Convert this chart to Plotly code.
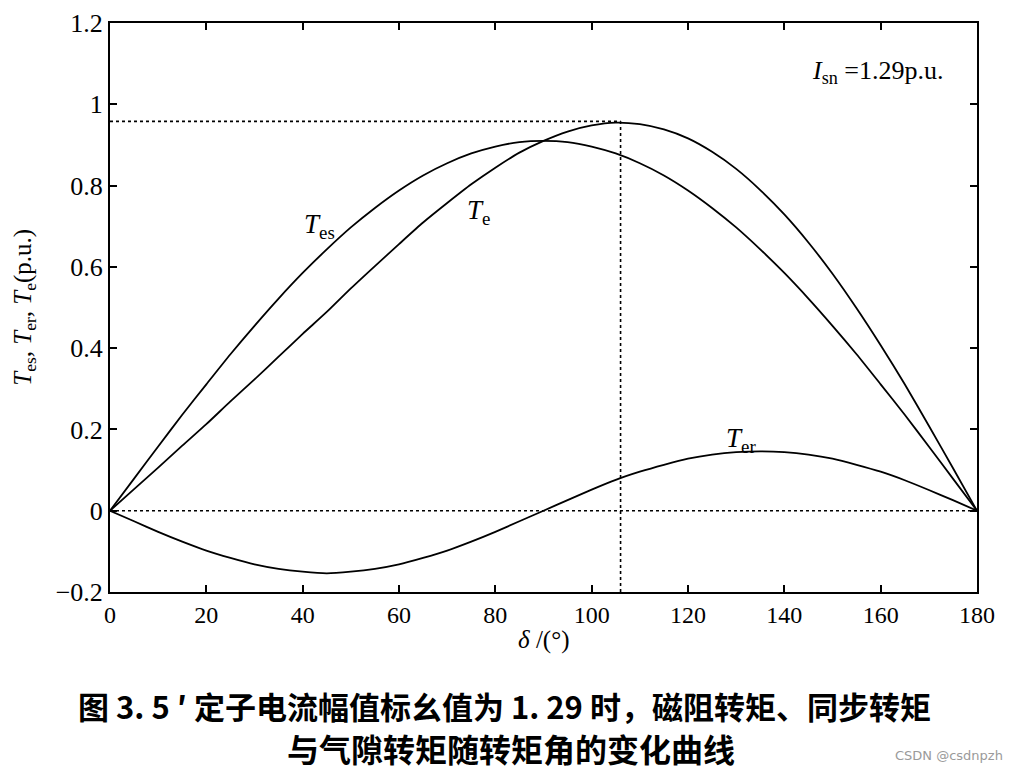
import plotly.graph_objects as go

delta = [0, 5, 10, 15, 20, 25, 30, 35, 40, 45, 50, 55, 60, 65, 70, 75, 80, 85, 90,
         95, 100, 105, 110, 115, 120, 125, 130, 135, 140, 145, 150, 155, 160, 165, 170, 175, 180]
T_es = [0, 0.079, 0.158, 0.236, 0.311, 0.385, 0.455, 0.522, 0.585, 0.643, 0.697, 0.745, 0.788,
        0.825, 0.855, 0.879, 0.896, 0.907, 0.910, 0.907, 0.896, 0.879, 0.855, 0.825, 0.788,
        0.745, 0.697, 0.643, 0.585, 0.522, 0.455, 0.385, 0.311, 0.236, 0.158, 0.079, 0]
T_er = [0, -0.026, -0.052, -0.076, -0.098, -0.116, -0.132, -0.143, -0.150, -0.154, -0.150,
        -0.143, -0.132, -0.116, -0.098, -0.076, -0.052, -0.026, 0, 0.026, 0.052, 0.076, 0.096,
        0.113, 0.128, 0.138, 0.144, 0.146, 0.144, 0.138, 0.128, 0.113, 0.096, 0.075, 0.051,
        0.026, 0]
T_e = [0, 0.053, 0.106, 0.160, 0.213, 0.269, 0.323, 0.379, 0.435, 0.489, 0.547, 0.602, 0.656,
       0.709, 0.757, 0.803, 0.844, 0.881, 0.910, 0.933, 0.948, 0.955, 0.951, 0.938, 0.916,
       0.883, 0.841, 0.789, 0.729, 0.660, 0.583, 0.498, 0.407, 0.311, 0.209, 0.105, 0]

peak_delta = 106
peak_T = 0.958

x_ticks = [0, 20, 40, 60, 80, 100, 120, 140, 160, 180]
y_ticks = [-0.2, 0, 0.2, 0.4, 0.6, 0.8, 1.0, 1.2]
y_ticklabels = ["\u22120.2", "0", "0.2", "0.4", "0.6", "0.8", "1", "1.2"]

serif = "Liberation Serif"
fig = go.Figure()

line_style = dict(color="black", width=1.8, shape="spline", smoothing=0.6)
for ys in (T_es, T_e, T_er):
    fig.add_trace(go.Scatter(x=delta, y=ys, mode="lines", line=line_style,
                             showlegend=False, hoverinfo="skip"))

dot = dict(color="black", width=1.6, dash="dot")
fig.add_trace(go.Scatter(x=[0, 180], y=[0, 0], mode="lines", line=dot, showlegend=False))
fig.add_trace(go.Scatter(x=[0, peak_delta], y=[peak_T, peak_T], mode="lines", line=dot, showlegend=False))
fig.add_trace(go.Scatter(x=[peak_delta, peak_delta], y=[-0.2, peak_T], mode="lines", line=dot, showlegend=False))

annotations = [
    dict(x=43.5, y=0.70, xref="x", yref="y", text="<i>T</i><sub>es</sub>",
         showarrow=False, font=dict(family=serif, size=27, color="black")),
    dict(x=76.5, y=0.735, xref="x", yref="y", text="<i>T</i><sub>e</sub>",
         showarrow=False, font=dict(family=serif, size=27, color="black")),
    dict(x=131, y=0.175, xref="x", yref="y", text="<i>T</i><sub>er</sub>",
         showarrow=False, font=dict(family=serif, size=27, color="black")),
    dict(x=159.5, y=1.08, xref="x", yref="y", text="<i>I</i><sub>sn</sub> =1.29p.u.",
         showarrow=False, font=dict(family=serif, size=26, color="black")),
    dict(x=0.5, y=-0.085, xref="paper", yref="paper", text="<i>δ</i> /(°)",
         showarrow=False, yanchor="middle", font=dict(family=serif, size=25, color="black")),
    dict(x=-0.099, y=0.5, xref="paper", yref="paper",
         text="<i>T</i><sub>es</sub>, <i>T</i><sub>er</sub>, <i>T</i><sub>e</sub>(p.u.)",
         showarrow=False, textangle=-90, xanchor="center",
         font=dict(family=serif, size=25, color="black")),
    dict(x=0.455, y=-0.199, xref="paper", yref="paper",
         text="<b>图 3. 5 ′ 定子电流幅值标幺值为 1. 29 时，磁阻转矩、同步转矩</b>",
         showarrow=False, yanchor="middle",
         font=dict(family="Noto Sans CJK SC", size=31, color="black")),
    dict(x=0.462, y=-0.274, xref="paper", yref="paper",
         text="<b>与气隙转矩随转矩角的变化曲线</b>",
         showarrow=False, yanchor="middle",
         font=dict(family="Noto Sans CJK SC", size=32, color="black")),
    dict(x=1.032, y=-0.288, xref="paper", yref="paper", text="CSDN @csdnpzh",
         showarrow=False, xanchor="right", yanchor="middle",
         font=dict(family="DejaVu Sans", size=13, color="#9a9a9a")),
]

fig.update_layout(
    width=1012, height=772,
    margin=dict(l=102, r=43, t=15, b=188, autoexpand=False),
    paper_bgcolor="white", plot_bgcolor="white",
    annotations=annotations,
    xaxis=dict(range=[0, 180], tickvals=x_ticks, ticks="inside", ticklen=7,
               tickcolor="black", tickwidth=1.5, showline=True, linecolor="black",
               linewidth=2, mirror="ticks", showgrid=False, zeroline=False,
               automargin=False,
               tickfont=dict(family=serif, size=24, color="black")),
    yaxis=dict(range=[-0.2, 1.2], tickvals=y_ticks, ticktext=y_ticklabels,
               ticks="inside", ticklen=7, tickcolor="black", tickwidth=1.5,
               showline=True, linecolor="black", linewidth=2, mirror="ticks",
               showgrid=False, zeroline=False, automargin=False,
               tickfont=dict(family=serif, size=26, color="black")),
)

fig.write_html("out.html")
